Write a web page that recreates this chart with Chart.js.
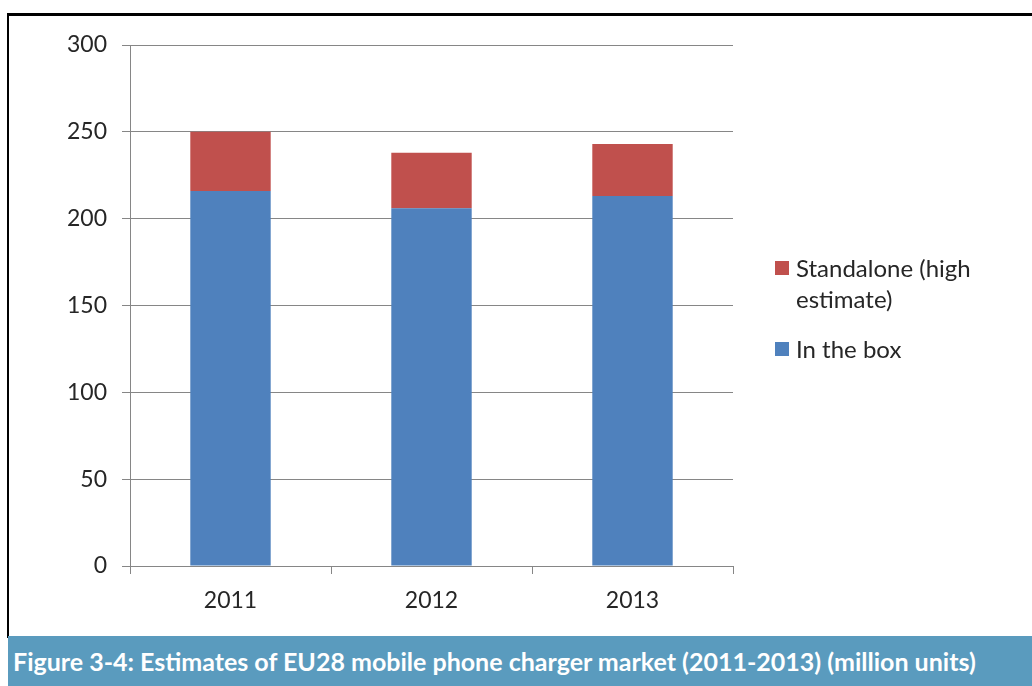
<!DOCTYPE html>
<html>
<head>
<meta charset="utf-8">
<script src="https://cdn.jsdelivr.net/npm/chart.js@4"></script>
<style>
  html, body { margin: 0; padding: 0; background: #fff; }
  body { width: 1032px; height: 686px; position: relative; overflow: hidden; font-family: Lato, "Open Sans", sans-serif; }
  #frame {
    position: absolute; left: 7px; top: 13px; width: 1025px; height: 620px;
    border-left: 2px solid #000; border-top: 3px solid #000; border-bottom: 2px solid #000;
  }
  #wrap { position: absolute; left: 0; top: 0; width: 1023px; height: 617px; }
  #legend { position: absolute; left: 766px; top: 236px; color: #262626; font-size: 24px; line-height: 31px; }
  .item { display: flex; align-items: flex-start; margin-bottom: 19px; width: 215px; }
  .box { width: 14px; height: 14px; margin: 9px 7px 0 0; flex: none; }
  #caption {
    position: absolute; left: 8px; top: 636px; width: 1024px; height: 50px;
    background: #5a9bbe; color: #fff; font-weight: bold; font-size: 25px;
    line-height: 50px; padding-left: 5px; box-sizing: border-box; white-space: nowrap;
  }
</style>
</head>
<body>
<div id="frame">
  <div id="wrap"><canvas id="chart"></canvas></div>
  <div id="legend"></div>
</div>
<div id="caption">Figure 3-4: Estimates of EU28 mobile phone charger market (2011-2013) (million units)</div>
<script>
const years = ['2011', '2012', '2013'];
const inTheBox = [216, 206, 213];
const standalone = [34, 32, 30];
const seriesNames = ['In the box', 'Standalone (high estimate)'];
const seriesColors = ['#4f81bd', '#c0504d'];

// legend built from the datasets, last series on top like the stack
const htmlLegend = {
  id: 'htmlLegend',
  afterUpdate(chart) {
    const box = document.getElementById('legend');
    box.innerHTML = '';
    chart.data.datasets.slice().reverse().forEach(ds => {
      const item = document.createElement('div');
      item.className = 'item';
      const sw = document.createElement('span');
      sw.className = 'box';
      sw.style.background = ds.backgroundColor;
      const txt = document.createElement('span');
      txt.textContent = ds.label;
      item.appendChild(sw);
      item.appendChild(txt);
      box.appendChild(item);
    });
  }
};

const ctx = document.getElementById('chart').getContext('2d');
new Chart(ctx, {
  type: 'bar',
  data: {
    labels: years,
    datasets: [
      { label: seriesNames[0], data: inTheBox, backgroundColor: seriesColors[0] },
      { label: seriesNames[1], data: standalone, backgroundColor: seriesColors[1] }
    ]
  },
  options: {
    responsive: true,
    maintainAspectRatio: false,
    animation: false,
    layout: { padding: { left: 0, top: 29, right: 299, bottom: 0 } },
    datasets: { bar: { categoryPercentage: 1, barPercentage: 0.4 } },
    scales: {
      x: {
        stacked: true,
        afterFit: s => { s.height = 67; },
        grid: { drawOnChartArea: false, drawTicks: true, tickLength: 8, color: '#868686' },
        border: { color: '#868686' },
        ticks: { color: '#262626', font: { family: 'Lato', size: 23 }, padding: 13 }
      },
      y: {
        stacked: true,
        min: 0,
        max: 300,
        afterFit: s => { s.width = 121; },
        grid: { color: '#868686', tickLength: 8 },
        border: { color: '#868686' },
        ticks: { stepSize: 50, color: '#262626', font: { family: 'Lato', size: 23 }, padding: 15 }
      }
    },
    plugins: {
      legend: { display: false },
      tooltip: { enabled: false }
    }
  },
  plugins: [htmlLegend]
});
</script>
</body>
</html>
